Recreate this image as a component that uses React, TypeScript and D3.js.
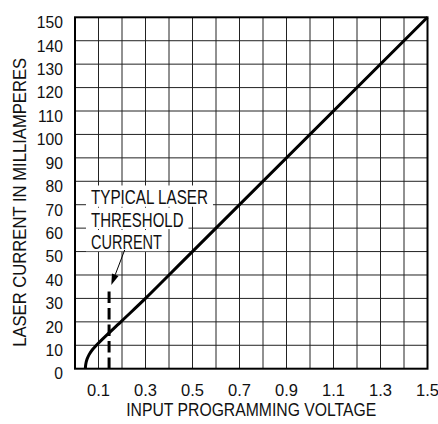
import React, { useEffect, useRef } from 'react';
import * as d3 from 'd3';

const W = 438;
const H = 424;

const xTickLabels = [0.1, 0.3, 0.5, 0.7, 0.9, 1.1, 1.3, 1.5];
const yTickLabels = [0, 10, 20, 30, 40, 50, 60, 70, 80, 90, 100, 110, 120, 130, 140, 150];
const xGrid = [0.1, 0.2, 0.3, 0.4, 0.5, 0.6, 0.7, 0.8, 0.9, 1.0, 1.1, 1.2, 1.3, 1.4];
const yGrid = [10, 20, 30, 40, 50, 60, 70, 80, 90, 100, 110, 120, 130, 140];

// laser current curve (V, mA)
const curveV = [0.044, 0.046, 0.051, 0.06, 0.073, 0.091, 0.195, 0.3, 0.4, 1.5];
const curveI = [0, 2, 4, 6, 8, 10, 20, 30, 40, 150];

// threshold marker
const thresholdV = 0.145;
const thresholdI = [33, 0];

// annotation
const noteLines = ['TYPICAL LASER', 'THRESHOLD', 'CURRENT'];
const noteWidths = [117, 92.5, 71];
const noteV = 0.068;
const noteBaselineI = [70.1, 60.6, 51.1];
const arrowFrom = [0.2115, 50.7];
const arrowTo = [0.1545, 35.7];

const xTitle = 'INPUT PROGRAMMING VOLTAGE';
const yTitle = 'LASER CURRENT IN MILLIAMPERES';

const FONT = "'Liberation Sans', Arial, sans-serif";

export default function App() {
  const ref = useRef<SVGSVGElement>(null);

  useEffect(() => {
    const svg = d3.select(ref.current);
    svg.selectAll('*').remove();

    const left = 75, right = 427.5, top = 17.3, bottom = 368.7;
    const x = d3.scaleLinear().domain([0, 1.5]).range([left, right]);
    const y = d3.scaleLinear().domain([0, 150]).range([bottom, top]);

    svg.append('rect').attr('width', W).attr('height', H).attr('fill', '#fff');

    const grid = svg.append('g').attr('stroke', '#222').attr('stroke-width', 1);
    grid.selectAll('line.v').data(xGrid).join('line')
      .attr('x1', d => x(d)).attr('x2', d => x(d)).attr('y1', top).attr('y2', bottom);
    grid.selectAll('line.h').data(yGrid).join('line')
      .attr('y1', d => y(d)).attr('y2', d => y(d)).attr('x1', left).attr('x2', right);

    // note background and text
    const noteG = svg.append('g');
    noteG.selectAll('rect').data(noteLines).join('rect')
      .attr('x', x(noteV) - 5)
      .attr('y', (_, i) => y(noteBaselineI[i]) - 19)
      .attr('width', (_, i) => noteWidths[i] + 10)
      .attr('height', 21.3)
      .attr('fill', '#fff');
    noteG.selectAll('text').data(noteLines).join('text')
      .attr('x', x(noteV))
      .attr('y', (_, i) => y(noteBaselineI[i]))
      .attr('font-family', FONT)
      .attr('font-size', 20)
      .attr('textLength', (_, i) => noteWidths[i])
      .attr('lengthAdjust', 'spacingAndGlyphs')
      .attr('fill', '#111')
      .text(d => d);

    // frame
    svg.append('rect').attr('x', left).attr('y', top)
      .attr('width', right - left).attr('height', bottom - top)
      .attr('fill', 'none').attr('stroke', '#000').attr('stroke-width', 2);

    // threshold dashed
    svg.append('line')
      .attr('x1', x(thresholdV)).attr('x2', x(thresholdV))
      .attr('y1', y(thresholdI[0])).attr('y2', y(thresholdI[1]))
      .attr('stroke', '#000').attr('stroke-width', 3)
      .attr('stroke-dasharray', '11.5 5');

    // arrow
    const ax1 = x(arrowFrom[0]), ay1 = y(arrowFrom[1]);
    const ax2 = x(arrowTo[0]), ay2 = y(arrowTo[1]);
    const ang = Math.atan2(ay2 - ay1, ax2 - ax1);
    const hl = 11, hw = 3.5;
    const bx = ax2 - hl * Math.cos(ang), byy = ay2 - hl * Math.sin(ang);
    svg.append('line').attr('x1', ax1).attr('y1', ay1).attr('x2', bx).attr('y2', byy)
      .attr('stroke', '#000').attr('stroke-width', 1);
    svg.append('path')
      .attr('d', `M${ax2},${ay2}L${bx + hw * Math.sin(ang)},${byy - hw * Math.cos(ang)}L${bx - hw * Math.sin(ang)},${byy + hw * Math.cos(ang)}Z`)
      .attr('fill', '#000');

    // curve
    const pts = curveV.map((v, i) => [v, curveI[i]] as [number, number]);
    const line = d3.line<[number, number]>()
      .x(d => x(d[0])).y(d => y(d[1]))
      .curve(d3.curveMonotoneY);
    svg.append('path').attr('d', line(pts) || '')
      .attr('fill', 'none').attr('stroke', '#000').attr('stroke-width', 3);

    // y tick labels
    svg.append('g').selectAll('text').data(yTickLabels).join('text')
      .attr('x', 63).attr('y', d => y(d) + 10.8)
      .attr('text-anchor', 'end')
      .attr('font-family', FONT).attr('font-size', 16.5).attr('fill', '#111')
      .attr('transform', 'translate(63,0) scale(0.95,1) translate(-63,0)')
      .text(d => String(d));

    // x tick labels
    svg.append('g').selectAll('text').data(xTickLabels).join('text')
      .attr('x', d => x(d)).attr('y', 395.5)
      .attr('text-anchor', 'middle')
      .attr('font-family', FONT).attr('font-size', 16.5).attr('fill', '#111')
      .text(d => d.toFixed(1));

    // titles
    svg.append('text').attr('x', (left + right) / 2 - 125).attr('y', 415.5)
      .attr('font-family', FONT).attr('font-size', 19)
      .attr('textLength', 250).attr('lengthAdjust', 'spacingAndGlyphs')
      .attr('fill', '#111').text(xTitle);
    svg.append('text')
      .attr('transform', `translate(25.5,${(58 + 346.7) / 2}) rotate(-90)`)
      .attr('x', -144.5)
      .attr('font-family', FONT).attr('font-size', 19)
      .attr('textLength', 289).attr('lengthAdjust', 'spacingAndGlyphs')
      .attr('fill', '#111').text(yTitle);
  }, []);

  return (
    <svg ref={ref} width={W} height={H}
      style={{ position: 'absolute', left: 0, top: 0, display: 'block' }} />
  );
}
